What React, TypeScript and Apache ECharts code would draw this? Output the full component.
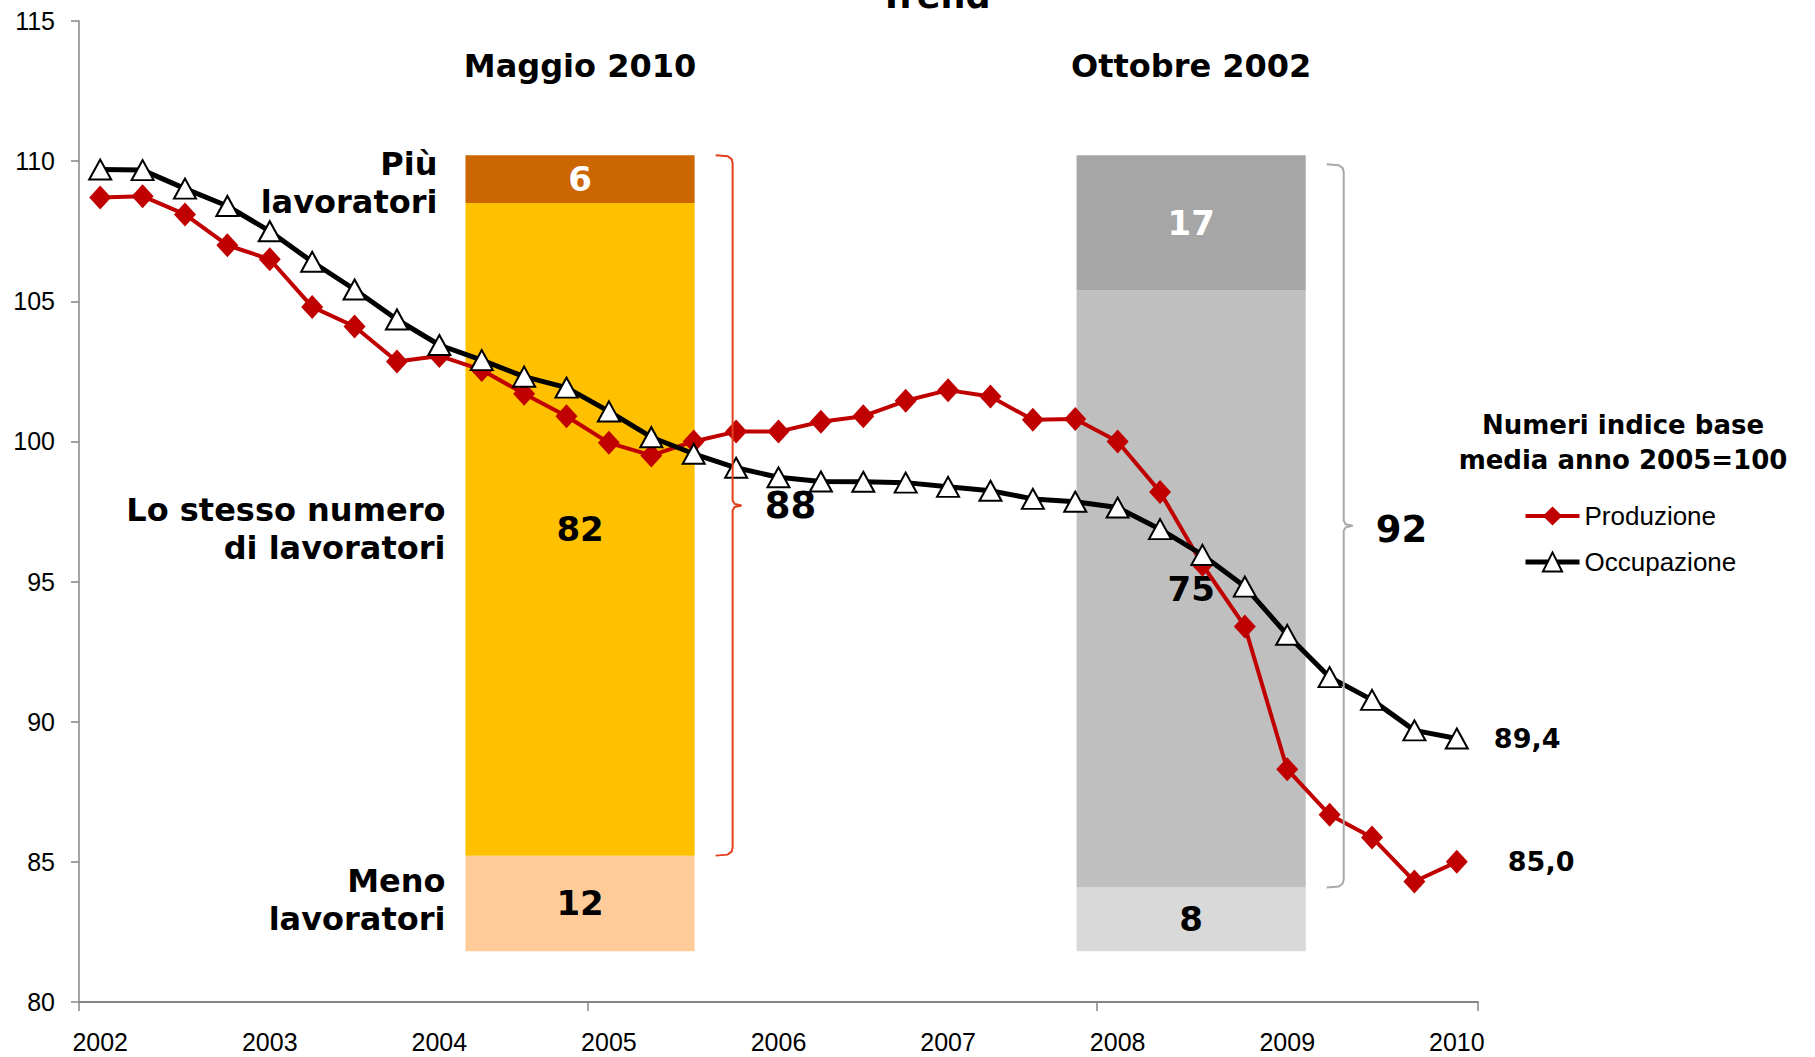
import React, { useEffect, useRef } from "react";
import * as echarts from "echarts";

// ---------- DATA ----------
const quarters = [
  "2002-T1", "2002-T2", "2002-T3", "2002-T4",
  "2003-T1", "2003-T2", "2003-T3", "2003-T4",
  "2004-T1", "2004-T2", "2004-T3", "2004-T4",
  "2005-T1", "2005-T2", "2005-T3", "2005-T4",
  "2006-T1", "2006-T2", "2006-T3", "2006-T4",
  "2007-T1", "2007-T2", "2007-T3", "2007-T4",
  "2008-T1", "2008-T2", "2008-T3", "2008-T4",
  "2009-T1", "2009-T2", "2009-T3", "2009-T4",
  "2010-T1",
];

const produzione = [
  108.7, 108.75, 108.1, 107.0, 106.5, 104.8, 104.1, 102.85,
  103.05, 102.55, 101.7, 100.9, 99.95, 99.5, 100.0, 100.35,
  100.35, 100.7, 100.9, 101.45, 101.83, 101.6, 100.77, 100.8,
  100.0, 98.2, 95.6, 93.4, 88.3, 86.68, 85.87, 84.3, 85.0,
];

const occupazione = [
  109.7, 109.68, 109.02, 108.4, 107.5, 106.41, 105.42, 104.35,
  103.44, 102.9, 102.31, 101.92, 101.07, 100.15, 99.56, 99.06,
  98.72, 98.57, 98.56, 98.53, 98.38, 98.24, 97.95, 97.85,
  97.64, 96.87, 95.95, 94.82, 93.1, 91.59, 90.78, 89.69, 89.4,
];

const yMin = 80;
const yMax = 115;
const yStep = 5;

// Quote (%) of firms in the two surveys
const periodi = ["Maggio 2010", "Ottobre 2002"];
const menoLavoratori = [12, 8];
const stessoNumero = [82, 75];
const piuLavoratori = [6, 17];
const segmentNames = ["Meno lavoratori", "Lo stesso numero di lavoratori", "Più lavoratori"];
const segmentTexts = ["Meno\nlavoratori", "Lo stesso numero\ndi lavoratori", "Più\nlavoratori"];

// ---------- STYLE ----------
const BOLD = '"DejaVu Sans", Verdana, sans-serif';
const AXF = '"Liberation Sans", Arial, Helvetica, sans-serif';
const AXIS_GRAY = "#868686";
const barColors = [
  ["#FFCC99", "#FFC000", "#CC6600"],
  ["#D9D9D9", "#BFBFBF", "#A6A6A6"],
];
const braceColors = ["#E2401C", "#A9A9A9"];
const braceTopInset = [0, 9];
const braceLabelShift = [0, 4];
const captionShift = [-3, 0, 4];
const captionGap = [20, 20, 28];

const fmt = (v: number) => v.toFixed(1).replace(".", ",");

function lineData(values: number[], distance: number) {
  const last = values.length - 1;
  return values.map((v, i) =>
    i === last
      ? {
          value: v,
          label: {
            show: true,
            position: "right",
            distance,
            formatter: (p: any) => fmt(p.value),
            fontFamily: BOLD,
            fontWeight: "bold",
            fontSize: 27,
            color: "#000",
          },
        }
      : v
  );
}

export default function App() {
  const ref = useRef<HTMLDivElement>(null);

  useEffect(() => {
    const chart = echarts.init(ref.current!, null, { renderer: "svg" });
    const segments = [menoLavoratori, stessoNumero, piuLavoratori];

    const barSeries = segments.map((arr, s) => ({
      name: segmentNames[s],
      type: "bar",
      xAxisIndex: 1,
      yAxisIndex: 1,
      stack: "quota",
      barWidth: "37.5%",
      z: 1,
      data: arr.map((v, i) => ({ value: v, itemStyle: { color: barColors[i][s] } })),
      label: {
        show: true,
        position: "inside",
        color: s === 2 ? "#fff" : "#000",
        fontFamily: BOLD,
        fontWeight: "bold",
        fontSize: 34,
        textBorderWidth: 0,
      },
      emphasis: { disabled: true },
    }));

    const option: any = {
      animation: false,
      backgroundColor: "#ffffff",
      grid: [
        { left: 79, right: 337, top: 21, bottom: 55, outerBoundsMode: "none", containLabel: false },
        { left: 274.5, right: 318.3, top: 21, bottom: 55, outerBoundsMode: "none", containLabel: false },
      ],
      legend: {
        data: [
          { name: "Produzione", lineStyle: { width: 4 } },
          { name: "Occupazione", lineStyle: { width: 5 } },
        ],
        orient: "vertical",
        left: 1518,
        top: 498,
        itemWidth: 54,
        itemHeight: 24,
        itemGap: 20,
        textStyle: { fontFamily: AXF, fontSize: 26, color: "#000" },
        selectedMode: false,
      },
      xAxis: [
        {
          type: "category",
          gridIndex: 0,
          data: quarters,
          boundaryGap: true,
          axisLine: { show: true, lineStyle: { color: AXIS_GRAY, width: 2 } },
          axisTick: {
            show: true,
            interval: 11,
            alignWithLabel: false,
            length: 9,
            lineStyle: { color: AXIS_GRAY, width: 1.5 },
          },
          axisLabel: {
            interval: 3,
            margin: 27,
            formatter: (v: string) => v.slice(0, 4),
            fontFamily: AXF,
            fontSize: 25,
            color: "#000",
          },
          splitLine: { show: false },
        },
        {
          type: "category",
          gridIndex: 1,
          data: periodi,
          position: "top",
          axisLine: { show: false },
          axisTick: { show: false },
          axisLabel: {
            inside: true,
            interval: 0,
            margin: 29,
            fontFamily: BOLD,
            fontWeight: "bold",
            fontSize: 32,
            color: "#000",
          },
          splitLine: { show: false },
        },
      ],
      yAxis: [
        {
          type: "value",
          gridIndex: 0,
          min: yMin,
          max: yMax,
          interval: yStep,
          axisLine: { show: true, lineStyle: { color: AXIS_GRAY, width: 1.5 } },
          axisTick: { show: true, length: 8, lineStyle: { color: AXIS_GRAY, width: 1.5 } },
          axisLabel: { margin: 24, fontFamily: AXF, fontSize: 25, color: "#000" },
          splitLine: { show: false },
        },
        {
          type: "value",
          gridIndex: 1,
          min: -6.39,
          max: 116.86,
          show: false,
          splitLine: { show: false },
        },
      ],
      series: [
        ...barSeries,
        {
          name: "Produzione",
          type: "line",
          xAxisIndex: 0,
          yAxisIndex: 0,
          data: lineData(produzione, 40),
          symbol: "diamond",
          symbolSize: [22, 24],
          showAllSymbol: true,
          lineStyle: { color: "#C00000", width: 4 },
          itemStyle: { color: "#C00000" },
          z: 4,
          emphasis: { disabled: true },
        },
        {
          name: "Occupazione",
          type: "line",
          xAxisIndex: 0,
          yAxisIndex: 0,
          data: lineData(occupazione, 25),
          symbol: "triangle",
          symbolSize: [22, 20],
          showAllSymbol: true,
          lineStyle: { color: "#000000", width: 5 },
          itemStyle: { color: "#ffffff", borderColor: "#000000", borderWidth: 2 },
          z: 5,
          emphasis: { disabled: true },
        },
      ],
    };

    chart.setOption(option);

    // ---------- overlays positioned through the bar grid's scales ----------
    const px = (i: number, v: number) =>
      chart.convertToPixel({ gridIndex: 1 } as any, [i, v]) as unknown as number[];
    const catW = px(1, 0)[0] - px(0, 0)[0];
    const barW = catW * 0.375;
    const graphics: any[] = [];

    graphics.push({
      type: "text",
      x: 935,
      y: -4,
      z: 10,
      style: {
        text: "Trend",
        align: "center",
        verticalAlign: "middle",
        fontFamily: BOLD,
        fontWeight: "bold",
        fontSize: 35,
        fill: "#000",
      },
    });

    graphics.push({
      type: "text",
      x: 1623,
      y: 442,
      z: 10,
      style: {
        text: "Numeri indice base\nmedia anno 2005=100",
        align: "center",
        verticalAlign: "middle",
        fontFamily: BOLD,
        fontWeight: "bold",
        fontSize: 26,
        lineHeight: 35,
        fill: "#000",
      },
    });

    periodi.forEach((_, i) => {
      const cx = px(i, 0)[0];
      const left = cx - barW / 2;
      const right = cx + barW / 2;

      // segment captions left of the first bar
      if (i === 0) {
        let acc = 0;
        segments.forEach((arr, s) => {
          const mid = px(i, acc + arr[i] / 2)[1];
          acc += arr[i];
          graphics.push({
            type: "text",
            x: left - captionGap[s],
            y: mid + captionShift[s],
            z: 10,
            style: {
              text: segmentTexts[s],
              align: "right",
              verticalAlign: "middle",
              fontFamily: BOLD,
              fontWeight: "bold",
              fontSize: 32,
              lineHeight: 38,
              fill: "#000",
            },
          });
        });
      }

      // brace covering "stesso numero" + "più"
      const yTop = px(i, 100)[1] + braceTopInset[i];
      const yBot = px(i, menoLavoratori[i])[1];
      const yMid = (yTop + yBot) / 2;
      const x0 = right + 21;
      const x1 = right + 38;
      const x2 = right + 47;
      graphics.push({
        type: "polyline",
        z: 10,
        shape: {
          points: [
            [x0, yTop],
            [x1 - 5, yTop + 1],
            [x1 - 1, yTop + 4],
            [x1, yTop + 8],
            [x1, yMid - 5],
            [x1 + 2, yMid - 1.5],
            [x2, yMid],
            [x1 + 2, yMid + 1.5],
            [x1, yMid + 5],
            [x1, yBot - 8],
            [x1 - 1, yBot - 4],
            [x1 - 5, yBot - 1],
            [x0, yBot],
          ],
        },
        style: { stroke: braceColors[i], lineWidth: 2, fill: null },
      });
      graphics.push({
        type: "text",
        x: x2 + 23,
        y: yMid + braceLabelShift[i],
        z: 10,
        style: {
          text: String(stessoNumero[i] + piuLavoratori[i]),
          align: "left",
          verticalAlign: "middle",
          fontFamily: BOLD,
          fontWeight: "bold",
          fontSize: 37,
          fill: "#000",
        },
      });
    });

    chart.setOption({ graphic: { elements: graphics } });

    return () => chart.dispose();
  }, []);

  return (
    <div
      ref={ref}
      style={{ position: "fixed", left: 0, top: 0, width: 1815, height: 1057 }}
    />
  );
}
